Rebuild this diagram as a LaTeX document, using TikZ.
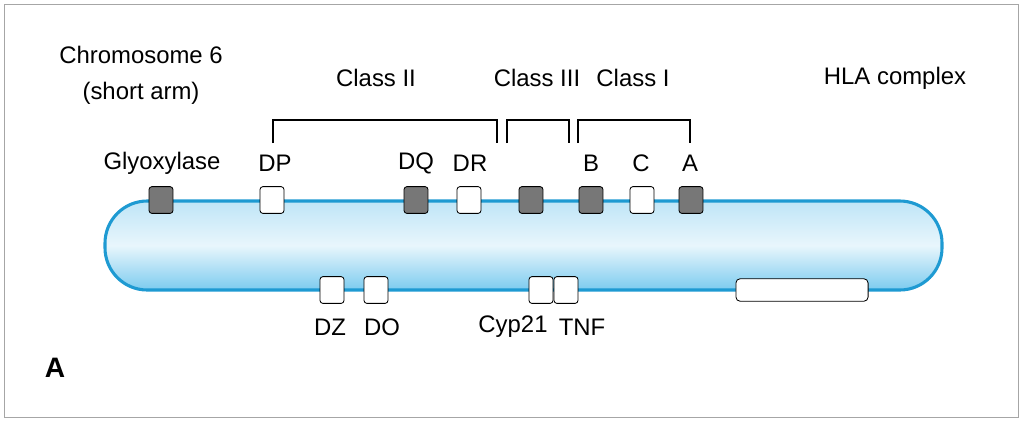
\documentclass[tikz,border=0pt]{standalone}
\usepackage{fontspec}
\setmainfont{Liberation Sans}
\usetikzlibrary{positioning}
\definecolor{chromline}{HTML}{1E9AD2}
\definecolor{chromtop}{HTML}{BFE5F7}
\definecolor{chrommid}{HTML}{E8F6FC}
\definecolor{chrombot}{HTML}{7CCBEF}
\definecolor{genegray}{HTML}{777777}
\tikzset{
  lbl/.style={font=\fontsize{17}{20}\selectfont},
  gene/.style={draw=black, line width=0.6pt, rounded corners=2pt, minimum width=17pt, minimum height=19pt, inner sep=0pt},
  filledgene/.style={gene, fill=genegray},
  emptygene/.style={gene, fill=white},
  brack/.style={line width=0.8pt}
}
\begin{document}
\begin{tikzpicture}[x=0.025cm, y=-0.025cm]
    \draw[gray!70, line width=0.6pt] (4,4) rectangle (1018,417);
    \useasboundingbox (0,0) rectangle (1023,422);
    % chromosome
    \path[top color=chromtop, bottom color=chrombot, middle color=chrommid, rounded corners=30pt]
        (105,201) rectangle (942,290);
    \draw[chromline, line width=2.2pt, rounded corners=30pt] (105,201) rectangle (942,290);
    % genes above
    \foreach \x/\s [count=\i] in {161/filledgene, 272/emptygene, 416/filledgene, 469/emptygene, 531/filledgene, 591/filledgene, 642/emptygene, 691/filledgene} {
        \fill[chromline!80] (\x+3,203) rectangle +(9,-6);
        \node[\s] (top\i) at (\x,200) {};
    }
    % genes below
    \foreach \x [count=\i] in {332, 376, 541, 566} {
        \fill[chromline!80] (\x+3,293) rectangle +(9,6);
        \node[emptygene] (bot\i) at (\x,290) {};
    }
    \node[gene, fill=white, minimum width=94pt, minimum height=16pt, rounded corners=3pt] (long) at (802,290) {};
    % labels
    \node[lbl] (glyox) at (162,163) {Glyoxylase};
    \node[lbl] (dp) at (275,163) {DP};
    \node[lbl] (dq) at (416,163) {DQ};
    \node[lbl] (dr) at (470,163) {DR};
    \node[lbl] (b) at (591,163) {B};
    \node[lbl] (c) at (641,163) {C};
    \node[lbl] (a) at (690,163) {A};
    \node[lbl] (dz) at (330,327) {DZ};
    \node[lbl] (do) at (382,327) {DO};
    \node[lbl] (cyp) at (513,327) {Cyp21};
    \node[lbl] (tnf) at (582,327) {TNF};
    \node[lbl] (chrom) at (141,55) {Chromosome 6};
    \node[lbl] (arm) at (141,93) {(short arm)};
    \node[lbl] (hla) at (895,78) {HLA complex};
    \node[lbl] (c2) at (376,78) {Class II};
    \node[lbl] (c3) at (537,78) {Class III};
    \node[lbl] (c1) at (633,78) {Class I};
    \node[font=\fontsize{20}{24}\selectfont\bfseries] (panel) at (55,368) {A};
    % brackets
    \draw[brack] (273,143) -- (273,120) -- (497,120) -- (497,143);
    \draw[brack] (507,143) -- (507,120) -- (569,120) -- (569,143);
    \draw[brack] (578,143) -- (578,120) -- (690,120) -- (690,143);
\end{tikzpicture}
\end{document}
